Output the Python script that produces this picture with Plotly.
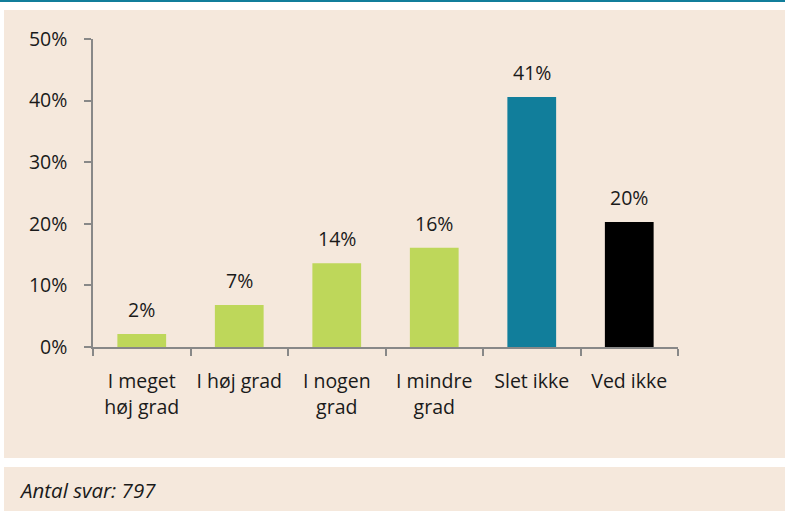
import plotly.graph_objects as go

categories = ["I meget<br>høj grad", "I høj grad", "I nogen<br>grad", "I mindre<br>grad", "Slet ikke", "Ved ikke"]
values = [2.1, 6.8, 13.6, 16.1, 40.6, 20.3]
colors = ["#BED75A", "#BED75A", "#BED75A", "#BED75A", "#117E9B", "#000000"]
y_ticks = [0, 10, 20, 30, 40, 50]
footer_text = "Antal svar: 797"

W, H = 785, 514
L, R, T, B = 93, 678, 39, 347
BEIGE = "#F5E8DC"
TEAL = "#117E9B"
FONT = "Open Sans"
FS = 19.5

def px_x(p):
    return (p - L) / (R - L)

def px_y(p):
    return (B - p) / (B - T)

fig = go.Figure()
fig.add_trace(go.Bar(
    x=categories, y=values, marker=dict(color=colors, line=dict(width=0)),
    hoverinfo="skip", showlegend=False,
))

for c, v in zip(categories, values):
    fig.add_annotation(x=c, y=v, xref="x", yref="y", text=f"{v:.0f}%",
                       showarrow=False, yanchor="bottom", yshift=9,
                       font=dict(family=FONT, size=FS, color="#1A1A1A"))

shapes = [
    dict(type="rect", xref="paper", yref="paper", x0=px_x(0), x1=px_x(W), y0=px_y(0), y1=px_y(2),
         fillcolor=TEAL, line=dict(width=0), layer="below"),
    dict(type="rect", xref="paper", yref="paper", x0=px_x(4), x1=px_x(W), y0=px_y(10), y1=px_y(458),
         fillcolor=BEIGE, line=dict(width=0), layer="below"),
    dict(type="rect", xref="paper", yref="paper", x0=px_x(4), x1=px_x(W), y0=px_y(467), y1=px_y(511),
         fillcolor=BEIGE, line=dict(width=0), layer="below"),
]

fig.add_annotation(xref="paper", yref="paper", x=px_x(17), y=px_y(490), xanchor="left", yanchor="middle",
                   text=f"<i>{footer_text}</i>", showarrow=False,
                   font=dict(family=FONT, size=20.5, color="#1A1A1A"))

fig.update_layout(
    width=W, height=H,
    margin=dict(l=L, r=W - R, t=T, b=H - B, pad=0),
    paper_bgcolor="white", plot_bgcolor="rgba(0,0,0,0)",
    bargap=0.5, shapes=shapes,
    font=dict(family=FONT, size=FS, color="#1A1A1A"),
    xaxis=dict(showline=True, linecolor="#888888", linewidth=1.5, ticks="outside", tickson="boundaries",
               ticklen=7, tickcolor="#888888", tickwidth=1.5, showgrid=False, fixedrange=True,
               ticklabelstandoff=16,
               tickfont=dict(family=FONT, size=FS, color="#1A1A1A")),
    yaxis=dict(range=[0, 50], tickvals=y_ticks, ticktext=[f"{t}%" for t in y_ticks],
               showline=True, linecolor="#888888", linewidth=1.5, ticks="outside", ticklen=7,
               tickcolor="#888888", tickwidth=1.5, showgrid=False, zeroline=False, fixedrange=True,
               ticklabelstandoff=13, tickfont=dict(family=FONT, size=FS, color="#1A1A1A")),
)

fig.write_html("out.html", config=dict(displayModeBar=False),
               post_script="document.body.style.margin='0';document.body.style.overflow='hidden';")
